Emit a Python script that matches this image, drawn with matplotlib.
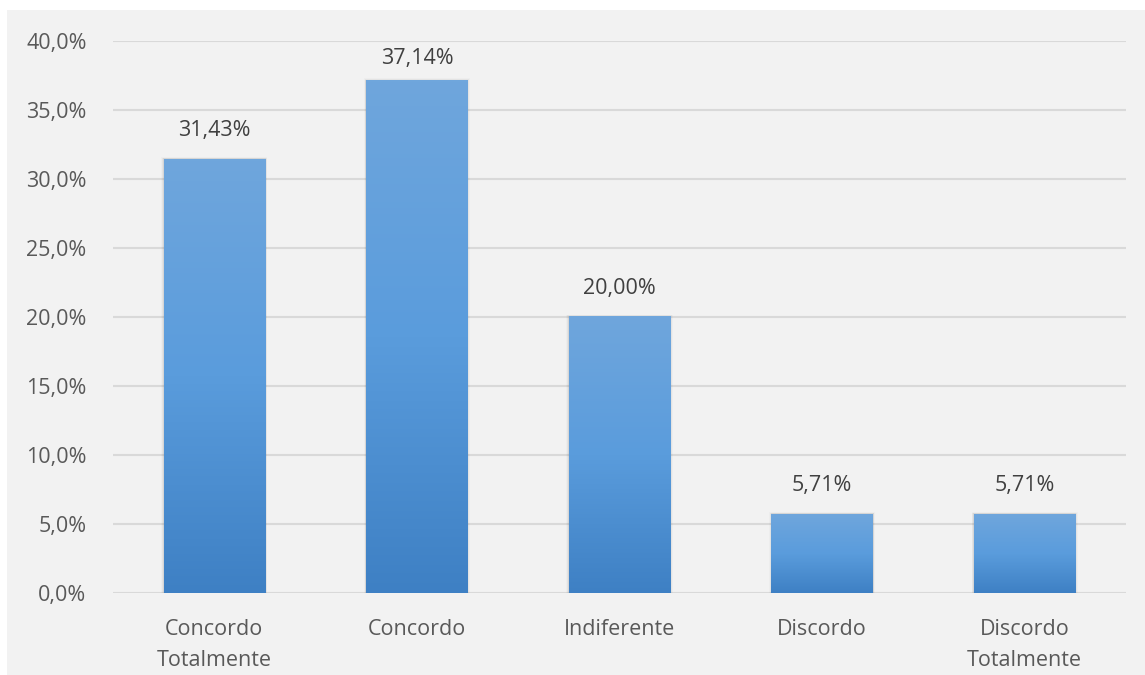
import numpy as np
import matplotlib.pyplot as plt
from matplotlib.patches import Rectangle
from matplotlib.colors import LinearSegmentedColormap

categories = ['Concordo\nTotalmente', 'Concordo', 'Indiferente', 'Discordo', 'Discordo\nTotalmente']
values = [31.43, 37.14, 20.00, 5.71, 5.71]
yticks = [0, 5, 10, 15, 20, 25, 30, 35, 40]

plt.rcParams['font.family'] = ['Open Sans', 'DejaVu Sans']

fig = plt.figure(figsize=(11.45, 6.75), dpi=100)
fig.patch.set_facecolor('white')
# gray chart area
fig.patches.append(Rectangle((7 / 1145, 0), 1, 1 - 10 / 675, transform=fig.transFigure,
                             facecolor='#f2f2f2', edgecolor='none', zorder=-10))

ax = fig.add_axes([113 / 1145, 1 - 593 / 675, (1126 - 113) / 1145, (593 - 41) / 675])
ax.set_facecolor('none')

x = np.arange(len(categories))
width = 0.5

cmap = LinearSegmentedColormap.from_list('bar', ['#3e80c4', '#5a9cdc', '#6fa6dc'])
grad = np.linspace(0, 1, 256).reshape(-1, 1)

for xi, v in zip(x, values):
    # soft shadow
    for k, a in enumerate([0.06, 0.04, 0.02]):
        d = 0.004 * (k + 1)
        ax.add_patch(Rectangle((xi - width / 2 - d, 0), width + 2 * d, v + 0.06 * (k + 1),
                               facecolor='black', alpha=a, edgecolor='none', zorder=2))
    ax.imshow(grad, cmap=cmap, origin='lower', aspect='auto', interpolation='nearest',
              extent=(xi - width / 2, xi + width / 2, 0, v), zorder=3)
    # labels are kept inside the plot area, like Excel does
    ax.text(xi, min(v + 1.3, 38.0), f'{v:.2f}%'.replace('.', ','), ha='center', va='bottom',
            fontsize=15.5, color='#404040', zorder=4)

ax.set_xlim(-0.5, len(categories) - 0.5)
ax.set_ylim(0, 40)

ax.set_yticks(yticks)
ax.set_yticklabels([f'{t:.1f}%'.replace('.', ',') for t in yticks])
ax.set_xticks(x)
ax.set_xticklabels(categories, linespacing=1.6)
ax.tick_params(axis='both', length=0, labelsize=15.5, colors='#595959')
ax.tick_params(axis='y', pad=19)
ax.tick_params(axis='x', pad=19)

ax.grid(axis='y', color='#d9d9d9', linewidth=1.5, zorder=1)
ax.set_axisbelow(True)
for s in ax.spines.values():
    s.set_visible(False)

fig.savefig('out.png', dpi=100, facecolor=fig.get_facecolor())
